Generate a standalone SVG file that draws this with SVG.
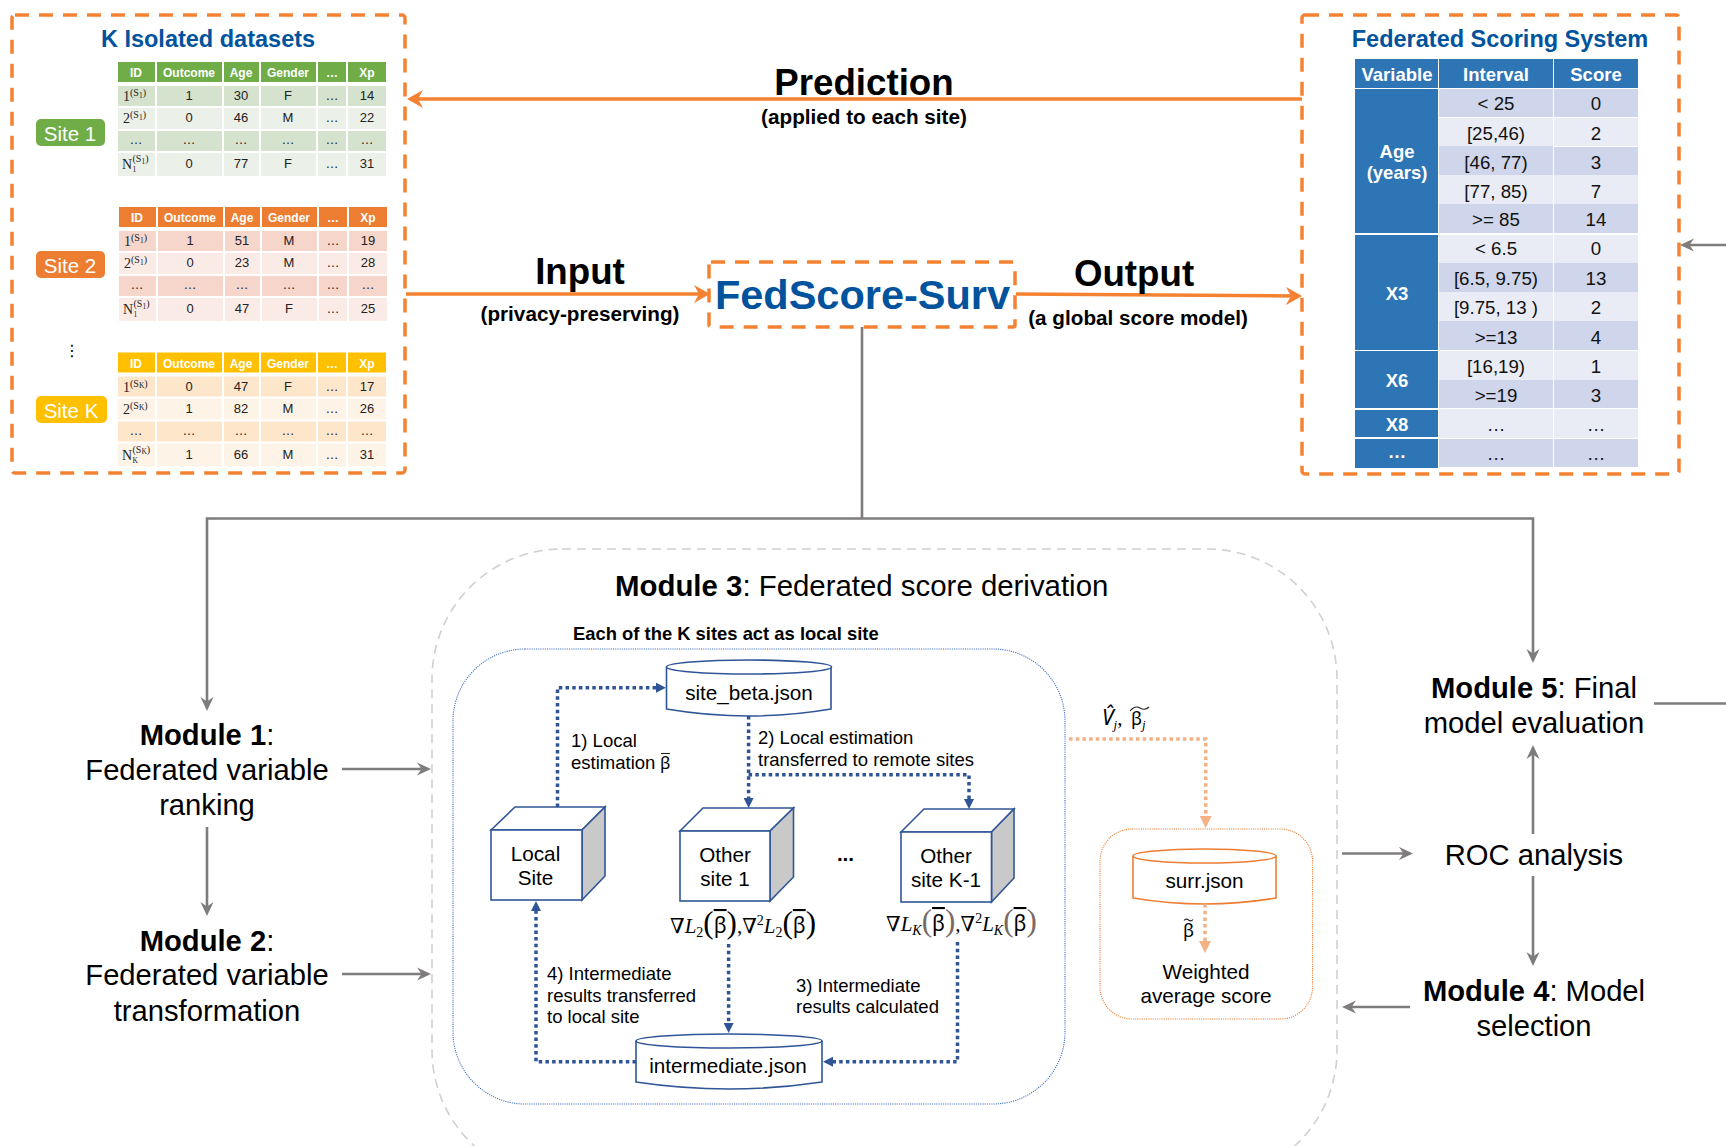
<svg xmlns="http://www.w3.org/2000/svg" width="1726" height="1146" viewBox="0 0 1726 1146">
<style>
text{font-family:"Liberation Sans",Arial,sans-serif;fill:#000}
.c{text-anchor:middle}
.b{font-weight:bold}
.blue{fill:#01539D;font-weight:bold}
.odash{fill:none;stroke:#F58232;stroke-width:3.5;stroke-dasharray:14 10}
.or{fill:none;stroke:#F58232;stroke-width:3.5}
.gr{fill:none;stroke:#7F7C7C;stroke-width:2.6}
.bd{fill:none;stroke:#2F5597;stroke-width:3.5;stroke-dasharray:3.5 3.2}
.ld{fill:none;stroke:#F4B183;stroke-width:3.5;stroke-dasharray:3.5 3.2}
.h{font-size:12px;font-weight:bold;fill:#fff;text-anchor:middle}
.d{font-size:13px;fill:#222;text-anchor:middle}
.s{font-family:"Liberation Serif",serif;font-size:14px;fill:#222}
.ss{font-size:10px}
.sss{font-size:7.500px}
.badge{font-size:20.500px;fill:#fff;text-anchor:middle}
.lab{font-size:18.500px}
.mod{font-size:29.200px;text-anchor:middle}
.box{font-size:20.700px;text-anchor:middle}
.big{font-size:36.700px;font-weight:bold;text-anchor:middle}
.sub{font-size:20.700px;font-weight:bold;text-anchor:middle}
.vh{font-size:18.500px;font-weight:bold;fill:#fff;text-anchor:middle}
.v{font-size:18.700px;fill:#111;text-anchor:middle}
.m{font-family:"Liberation Serif","DejaVu Serif",serif;font-size:21px}
.i{font-style:italic}
.p{font-size:31px;font-weight:normal}
.g{font-family:"Noto Sans",sans-serif}
.bar{font-family:"Noto Sans",sans-serif;text-decoration:overline}
.tl{fill:none;stroke:#222;stroke-width:1.100}
.cube{fill:#fff;stroke:#2F5597;stroke-width:1.6}
.side{fill:#C9C9C9;stroke:#2F5597;stroke-width:1.6}
.cyl{fill:#fff;stroke:#2F5597;stroke-width:1.6}
.cylo{fill:#fff;stroke:#ED7D31;stroke-width:1.6}
</style>
<defs>
<marker id="ag" markerUnits="userSpaceOnUse" markerWidth="14" markerHeight="14" viewBox="0 0 14 14" refX="9" refY="7" orient="auto"><path d="M14 7L0 .5L4.500 7L0 13.500Z" fill="#7F7C7C"/></marker>
<marker id="ao" markerUnits="userSpaceOnUse" markerWidth="16" markerHeight="18" viewBox="0 0 16 18" refX="10" refY="9" orient="auto"><path d="M16 9L0 0L5 9L0 18Z" fill="#F58232"/></marker>
<marker id="ab" markerUnits="userSpaceOnUse" markerWidth="10" markerHeight="10" viewBox="0 0 10 10" refX="4" refY="5" orient="auto"><path d="M10 5L0 0V10Z" fill="#2F5597"/></marker>
<marker id="al" markerUnits="userSpaceOnUse" markerWidth="12" markerHeight="12" viewBox="0 0 12 12" refX="5" refY="6" orient="auto"><path d="M12 6L0 0V12Z" fill="#F4B183"/></marker>
<path id="th" d="M118 62h37v20h-37zM157 62h65v20h-65zM224 62h35v20h-35zM261 62h55v20h-55zM318 62h28v20h-28zM348 62h38v20h-38z"/>
<path id="r1" d="M118 86h37v20h-37zM157 86h65v20h-65zM224 86h35v20h-35zM261 86h55v20h-55zM318 86h28v20h-28zM348 86h38v20h-38z"/>
<path id="r2" d="M118 108h37v21h-37zM157 108h65v21h-65zM224 108h35v21h-35zM261 108h55v21h-55zM318 108h28v21h-28zM348 108h38v21h-38z"/>
<path id="r3" d="M118 131h37v20h-37zM157 131h65v20h-65zM224 131h35v20h-35zM261 131h55v20h-55zM318 131h28v20h-28zM348 131h38v20h-38z"/>
<path id="r4" d="M118 153h37v23h-37zM157 153h65v23h-65zM224 153h35v23h-35zM261 153h55v23h-55zM318 153h28v23h-28zM348 153h38v23h-38z"/>
<g id="thd"><text class="h" x="136" y="77">ID</text><text class="h" x="189" y="77">Outcome</text><text class="h" x="241" y="77">Age</text><text class="h" x="288" y="77">Gender</text><text class="h" x="332" y="77">…</text><text class="h" x="367" y="77">Xp</text></g>
<g id="dotrow"><text class="d" x="136" y="144">…</text><text class="d" x="189" y="144">…</text><text class="d" x="241" y="144">…</text><text class="d" x="288" y="144">…</text><text class="d" x="332" y="144">…</text><text class="d" x="367" y="144">…</text></g>
</defs>
<rect width="1726" height="1146" fill="#fff"/>

<g id="k-isolated-datasets">
<rect class="odash" x="12" y="15" width="393" height="458" rx="3"/>
<text class="blue c" x="208" y="46.500" font-size="23.500">K Isolated datasets</text>
<g id="site-1"><rect x="36" y="119" width="69" height="27" rx="5" fill="#70AD47"/><text class="badge" x="70" y="141">Site 1</text></g>
<g id="site-2"><rect x="36" y="251" width="69" height="27" rx="5" fill="#ED7D31"/><text class="badge" x="70" y="273">Site 2</text></g>
<g id="site-k"><rect x="36" y="396" width="71" height="27" rx="5" fill="#FFC000"/><text class="badge" x="71" y="418">Site K</text></g>
<text x="72" y="356" font-size="16" class="c" style="font-family:'DejaVu Sans',sans-serif">⋮</text>
<g id="table-1">
<use href="#th" fill="#70AD47"/><use href="#r1" fill="#D5E2CD"/><use href="#r2" fill="#EBF0E8"/><use href="#r3" fill="#D5E2CD"/><use href="#r4" fill="#EBF0E8"/>
<use href="#thd"/>
<text class="s" x="123" y="101">1<tspan class="ss" dy="-5">(S</tspan><tspan class="sss" dy="1.500">1</tspan><tspan class="ss" dy="-1.500">)</tspan></text>
<text class="d" x="189" y="100">1</text><text class="d" x="241" y="100">30</text><text class="d" x="288" y="100">F</text><text class="d" x="332" y="100">…</text><text class="d" x="367" y="100">14</text>
<text class="s" x="123" y="123">2<tspan class="ss" dy="-5">(S</tspan><tspan class="sss" dy="1.500">1</tspan><tspan class="ss" dy="-1.500">)</tspan></text>
<text class="d" x="189" y="122">0</text><text class="d" x="241" y="122">46</text><text class="d" x="288" y="122">M</text><text class="d" x="332" y="122">…</text><text class="d" x="367" y="122">22</text>
<use href="#dotrow"/>
<text class="s" x="122" y="169">N<tspan class="sss" x="132.500" dy="3">1</tspan><tspan class="ss" x="132.500" dy="-10">(S</tspan><tspan class="sss" dy="1.500">1</tspan><tspan class="ss" dy="-1.500">)</tspan></text>
<text class="d" x="189" y="168">0</text><text class="d" x="241" y="168">77</text><text class="d" x="288" y="168">F</text><text class="d" x="332" y="168">…</text><text class="d" x="367" y="168">31</text>
</g>
<g id="table-2" transform="translate(1 145)">
<use href="#th" fill="#ED7D31"/><use href="#r1" fill="#F6D5CB"/><use href="#r2" fill="#FBEBE7"/><use href="#r3" fill="#F6D5CB"/><use href="#r4" fill="#FBEBE7"/>
<use href="#thd"/>
<text class="s" x="123" y="101">1<tspan class="ss" dy="-5">(S</tspan><tspan class="sss" dy="1.500">1</tspan><tspan class="ss" dy="-1.500">)</tspan></text>
<text class="d" x="189" y="100">1</text><text class="d" x="241" y="100">51</text><text class="d" x="288" y="100">M</text><text class="d" x="332" y="100">…</text><text class="d" x="367" y="100">19</text>
<text class="s" x="123" y="123">2<tspan class="ss" dy="-5">(S</tspan><tspan class="sss" dy="1.500">1</tspan><tspan class="ss" dy="-1.500">)</tspan></text>
<text class="d" x="189" y="122">0</text><text class="d" x="241" y="122">23</text><text class="d" x="288" y="122">M</text><text class="d" x="332" y="122">…</text><text class="d" x="367" y="122">28</text>
<use href="#dotrow"/>
<text class="s" x="122" y="169">N<tspan class="sss" x="132.500" dy="3">1</tspan><tspan class="ss" x="132.500" dy="-10">(S</tspan><tspan class="sss" dy="1.500">1</tspan><tspan class="ss" dy="-1.500">)</tspan></text>
<text class="d" x="189" y="168">0</text><text class="d" x="241" y="168">47</text><text class="d" x="288" y="168">F</text><text class="d" x="332" y="168">…</text><text class="d" x="367" y="168">25</text>
</g>
<g id="table-k" transform="translate(0 290.500)">
<use href="#th" fill="#FFC000"/><use href="#r1" fill="#FEE6CB"/><use href="#r2" fill="#FEF3E7"/><use href="#r3" fill="#FEE6CB"/><use href="#r4" fill="#FEF3E7"/>
<use href="#thd"/>
<text class="s" x="123" y="101">1<tspan class="ss" dy="-5">(S</tspan><tspan class="sss" dy="1.500">K</tspan><tspan class="ss" dy="-1.500">)</tspan></text>
<text class="d" x="189" y="100">0</text><text class="d" x="241" y="100">47</text><text class="d" x="288" y="100">F</text><text class="d" x="332" y="100">…</text><text class="d" x="367" y="100">17</text>
<text class="s" x="123" y="123">2<tspan class="ss" dy="-5">(S</tspan><tspan class="sss" dy="1.500">K</tspan><tspan class="ss" dy="-1.500">)</tspan></text>
<text class="d" x="189" y="122">1</text><text class="d" x="241" y="122">82</text><text class="d" x="288" y="122">M</text><text class="d" x="332" y="122">…</text><text class="d" x="367" y="122">26</text>
<use href="#dotrow"/>
<text class="s" x="122" y="169">N<tspan class="sss" x="132.500" dy="3">K</tspan><tspan class="ss" x="132.500" dy="-10">(S</tspan><tspan class="sss" dy="1.500">K</tspan><tspan class="ss" dy="-1.500">)</tspan></text>
<text class="d" x="189" y="168">1</text><text class="d" x="241" y="168">66</text><text class="d" x="288" y="168">M</text><text class="d" x="332" y="168">…</text><text class="d" x="367" y="168">31</text>
</g>
</g>

<g id="federated-scoring-system">
<rect class="odash" x="1302" y="15" width="377" height="459" rx="3"/>
<text class="blue c" x="1500" y="46.500" font-size="23.500">Federated Scoring System</text>
<g fill="#2E75B6">
<rect x="1355" y="59" width="83" height="29"/><rect x="1439" y="59" width="114" height="29"/><rect x="1554" y="59" width="84" height="29"/>
<rect x="1355" y="89" width="83" height="144"/><rect x="1355" y="235" width="83" height="115"/><rect x="1355" y="351" width="83" height="57"/><rect x="1355" y="410" width="83" height="27"/><rect x="1355" y="439" width="83" height="29"/>
</g>
<g fill="#CFD5EA">
<path d="M1439 89h114v28h-114zM1554 89h84v28h-84z"/>
<path d="M1439 146h114v29h-114zM1554 147h84v28h-84z"/>
<path d="M1439 204h114v29h-114zM1554 204h84v29h-84z"/>
<path d="M1439 263h114v29h-114zM1554 263h84v29h-84z"/>
<path d="M1439 321h114v29h-114zM1554 321h84v29h-84z"/>
<path d="M1439 380h114v28h-114zM1554 380h84v28h-84z"/>
<path d="M1439 439h114v28h-114zM1554 439h84v28h-84z"/>
</g>
<g fill="#E9EBF5">
<path d="M1439 118h114v28h-114zM1554 118h84v28h-84z"/>
<path d="M1439 175h114v29h-114zM1554 175h84v29h-84z"/>
<path d="M1439 235h114v28h-114zM1554 235h84v28h-84z"/>
<path d="M1439 292h114v29h-114zM1554 292h84v29h-84z"/>
<path d="M1439 351h114v29h-114zM1554 351h84v29h-84z"/>
<path d="M1439 409h114v29h-114zM1554 409h84v29h-84z"/>
</g>
<text class="vh" x="1397" y="81">Variable</text><text class="vh" x="1496" y="81">Interval</text><text class="vh" x="1596" y="81">Score</text>
<text class="vh" x="1397" y="158">Age</text><text class="vh" x="1397" y="179">(years)</text><text class="vh" x="1397" y="300">X3</text><text class="vh" x="1397" y="387">X6</text><text class="vh" x="1397" y="430.500">X8</text><text class="vh" x="1397" y="458">…</text>
<text class="v" x="1496" y="110">&lt; 25</text><text class="v" x="1596" y="110">0</text>
<text class="v" x="1496" y="139.500">[25,46)</text><text class="v" x="1596" y="139.500">2</text>
<text class="v" x="1496" y="168.500">[46, 77)</text><text class="v" x="1596" y="168.500">3</text>
<text class="v" x="1496" y="197.500">[77, 85)</text><text class="v" x="1596" y="197.500">7</text>
<text class="v" x="1496" y="226">&gt;= 85</text><text class="v" x="1596" y="226">14</text>
<text class="v" x="1496" y="255">&lt; 6.5</text><text class="v" x="1596" y="255">0</text>
<text class="v" x="1496" y="285">[6.5, 9.75)</text><text class="v" x="1596" y="285">13</text>
<text class="v" x="1496" y="314">[9.75, 13 )</text><text class="v" x="1596" y="314">2</text>
<text class="v" x="1496" y="343.500">&gt;=13</text><text class="v" x="1596" y="343.500">4</text>
<text class="v" x="1496" y="372.500">[16,19)</text><text class="v" x="1596" y="372.500">1</text>
<text class="v" x="1496" y="401.500">&gt;=19</text><text class="v" x="1596" y="401.500">3</text>
<text class="v" x="1496" y="431">…</text><text class="v" x="1596" y="431">…</text>
<text class="v" x="1496" y="460">…</text><text class="v" x="1596" y="460">…</text>
</g>

<g id="fedscore-surv">
<rect class="odash" x="709" y="262" width="306" height="65" rx="2"/>
<text class="blue c" x="862.500" y="309" font-size="41.500">FedScore-Surv</text>
</g>

<g id="module-3-box">
<rect x="432" y="549" width="905" height="631" rx="130" fill="none" stroke="#D0D0D0" stroke-width="1.600" stroke-dasharray="9 6"/>
<text x="615" y="596" font-size="29.400"><tspan class="b">Module 3</tspan>: Federated score derivation</text>
</g>
<g id="local-site-panel">
<text class="b" x="573" y="640" font-size="18.400">Each of the K sites act as local site</text>
<rect x="453" y="649" width="612" height="455" rx="72" fill="none" stroke="#3F6EC6" stroke-width="1.100" stroke-dasharray="1.100 1.100"/>
</g>
<g id="site-beta"><path class="cyl" d="M666.500 667V709Q749 723 831 709V667"/><ellipse class="cyl" cx="749" cy="667" rx="82.500" ry="7"/><text class="box" x="749" y="700">site_beta.json</text></g>
<g id="local-site"><path class="cube" d="M491 830L515 807H605L582 830Z"/><path class="side" d="M582 830L605 807V876L582 900Z"/><rect class="cube" x="491" y="830" width="91" height="70"/><text class="box" x="535.500" y="861">Local</text><text class="box" x="535.500" y="885">Site</text></g>
<g id="other-site-1"><path class="cube" d="M680 831L703 808H793.500L770 831Z"/><path class="side" d="M770 831L793.500 808V877L770 901Z"/><rect class="cube" x="680" y="831" width="90" height="70"/><text class="box" x="725" y="862">Other</text><text class="box" x="725" y="886">site 1</text></g>
<g id="other-site-k"><path class="cube" d="M901 832L924 809H1014L991.500 832Z"/><path class="side" d="M991.500 832L1014 809V878L991.500 902Z"/><rect class="cube" x="901" y="832" width="90.500" height="70"/><text class="box" x="946" y="863">Other</text><text class="box" x="946" y="887">site K-1</text></g>
<g id="ellipsis"><text class="box b" x="845.500" y="861">...</text></g>
<g id="intermediate"><path class="cyl" d="M636 1041V1082Q729 1096 822 1082V1041"/><ellipse class="cyl" cx="729" cy="1041" rx="93" ry="7"/><text class="box" x="728" y="1073">intermediate.json</text></g>
<g id="weighted-average">
<rect x="1100" y="829" width="212.500" height="190" rx="32" fill="none" stroke="#ED7D31" stroke-width="1.100" stroke-dasharray="1.100 1.100"/>
<g id="surr"><path class="cylo" d="M1133 856V898Q1205 910 1276 898V856"/><ellipse class="cylo" cx="1204.500" cy="856" rx="71.500" ry="7"/><text class="box" x="1204.500" y="888">surr.json</text></g>
<text class="box" x="1206" y="979">Weighted</text><text class="box" x="1206" y="1003">average score</text>
<text class="g" x="1183" y="937" font-size="18">β</text>
<path class="tl" d="M1184 920.500Q1186 918 1188.500 920T1193 919.500"/>
</g>

<g id="module-1"><text class="mod" x="207" y="745"><tspan class="b">Module 1</tspan>:</text><text class="mod" x="207" y="780">Federated variable</text><text class="mod" x="207" y="815">ranking</text></g>
<g id="module-2"><text class="mod" x="207" y="951"><tspan class="b">Module 2</tspan>:</text><text class="mod" x="207" y="985">Federated variable</text><text class="mod" x="207" y="1021">transformation</text></g>
<g id="module-5"><text class="mod" x="1534" y="698"><tspan class="b">Module 5</tspan>: Final</text><text class="mod" x="1534" y="733">model evaluation</text></g>
<g id="roc"><text class="mod" x="1534" y="865">ROC analysis</text></g>
<g id="module-4"><text class="mod" x="1534" y="1001"><tspan class="b">Module 4</tspan>: Model</text><text class="mod" x="1534" y="1036">selection</text></g>

<g id="connectors">
<path class="or" d="M1302 99H413" marker-end="url(#ao)"/>
<path class="or" d="M406 294H704" marker-end="url(#ao)"/>
<path class="or" d="M1016 294L1296 296" marker-end="url(#ao)"/>
<path class="gr" d="M862 327V518.500"/>
<path class="gr" d="M862 518.500H207V706" marker-end="url(#ag)"/>
<path class="gr" d="M862 518.500H1533V658" marker-end="url(#ag)"/>
<path class="gr" d="M342 769H426" marker-end="url(#ag)"/>
<path class="gr" d="M207 827V911" marker-end="url(#ag)"/>
<path class="gr" d="M342 974H426" marker-end="url(#ag)"/>
<path class="gr" d="M1533 834V750" marker-end="url(#ag)"/>
<path class="gr" d="M1533 876V961" marker-end="url(#ag)"/>
<path class="gr" d="M1342 853.500H1408" marker-end="url(#ag)"/>
<path class="gr" d="M1410 1007H1347" marker-end="url(#ag)"/>
<path class="gr" d="M1654 703.500H1726"/>
<path class="gr" d="M1726 245H1685" marker-end="url(#ag)"/>
<path class="bd" d="M557.500 807V687.700H660" marker-end="url(#ab)"/>
<path class="bd" d="M748.600 716V802" marker-end="url(#ab)"/>
<path class="bd" d="M748.600 774.700H969V803" marker-end="url(#ab)"/>
<path class="bd" d="M636 1061.700H536V907" marker-end="url(#ab)"/>
<path class="bd" d="M728.600 944V1027" marker-end="url(#ab)"/>
<path class="bd" d="M957.500 942V1061.700H829" marker-end="url(#ab)"/>
<path class="ld" d="M1069 739H1205.700V821" marker-end="url(#al)"/>
<path class="ld" d="M1205 904V946" marker-end="url(#al)"/>
</g>

<g id="labels">
<text class="big" x="864" y="95">Prediction</text>
<text class="sub" x="864" y="124">(applied to each site)</text>
<text class="big" x="580" y="284">Input</text>
<text class="sub" x="580" y="321">(privacy-preserving)</text>
<text class="big" x="1134" y="286">Output</text>
<text class="sub" x="1138" y="325">(a global score model)</text>
<text class="lab" x="571" y="747">1) Local</text>
<text class="lab" x="571" y="769">estimation <tspan class="g" x="660" font-size="17">β</tspan></text>
<path class="tl" d="M661 753.500H670"/>
<text class="lab" x="758" y="744">2) Local estimation</text>
<text class="lab" x="758" y="766">transferred to remote sites</text>
<text class="lab" x="547" y="980">4) Intermediate</text>
<text class="lab" x="547" y="1002">results transferred</text>
<text class="lab" x="547" y="1023">to local site</text>
<text class="lab" x="796" y="992">3) Intermediate</text>
<text class="lab" x="796" y="1013">results calculated</text>
<text class="m" x="670" y="933">∇<tspan class="i">L</tspan><tspan font-size="14" dy="4">2</tspan><tspan class="p" dy="-4">(</tspan><tspan class="bar">β</tspan><tspan class="p">)</tspan>,∇<tspan font-size="14" dy="-8">2</tspan><tspan class="i" dy="8">L</tspan><tspan font-size="14" dy="4">2</tspan><tspan class="p" dy="-4">(</tspan><tspan class="bar">β</tspan><tspan class="p">)</tspan></text>
<text class="m" x="886" y="931">∇<tspan class="i">L</tspan><tspan class="i" font-size="14" dy="4">K</tspan><tspan class="p" dy="-4" fill="#7A6A65">(</tspan><tspan class="bar">β</tspan><tspan class="p" fill="#7A6A65">)</tspan>,∇<tspan font-size="14" dy="-8">2</tspan><tspan class="i" dy="8">L</tspan><tspan class="i" font-size="14" dy="4">K</tspan><tspan class="p" dy="-4" fill="#7A6A65">(</tspan><tspan class="bar">β</tspan><tspan class="p" fill="#7A6A65">)</tspan></text>
<text class="m" x="1102" y="725" font-size="19"><tspan class="i g">V̂</tspan><tspan class="i" font-size="13" dy="4">j</tspan><tspan dy="-4">,</tspan></text>
<text class="g" x="1131" y="725" font-size="18">β<tspan class="i" font-family="Liberation Serif" font-size="13" dy="4">j</tspan></text>
<path class="tl" d="M1130 711Q1135 705 1140 708T1149 707"/>
</g>
</svg>
